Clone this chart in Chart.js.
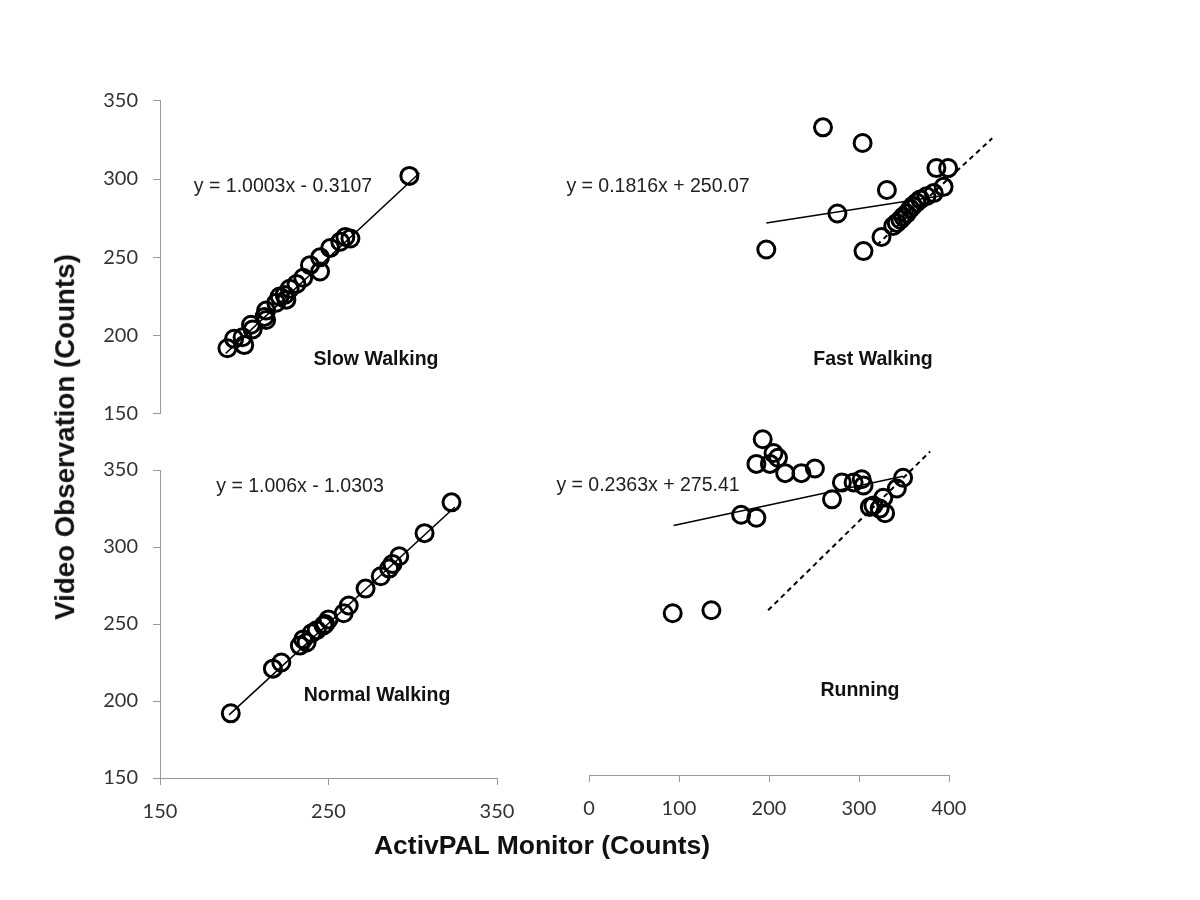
<!DOCTYPE html>
<html>
<head>
<meta charset="utf-8">
<script src="https://cdn.jsdelivr.net/npm/chart.js@4.4.1/dist/chart.umd.min.js"></script>
<style>
  html, body { margin: 0; padding: 0; background: #fff; }
  #wrap { position: relative; width: 1200px; height: 900px; overflow: hidden; }
  #wrap canvas { position: absolute; left: 0; top: 0; }
  .txt { position: absolute; white-space: nowrap; line-height: 1; transform: translate(-50%, -50%);
         font-family: "Liberation Sans", Arial, sans-serif; }
  .eq { font-size: 19.5px; color: #222; }
  .lbl { font-size: 19.5px; font-weight: bold; color: #111; }
  .title { font-size: 26.5px; font-weight: bold; color: #111; }
</style>
</head>
<body>
<div id="wrap">
  <canvas id="slow" width="1200" height="900"></canvas>
  <canvas id="fast" width="1200" height="900"></canvas>
  <canvas id="normal" width="1200" height="900"></canvas>
  <canvas id="running" width="1200" height="900"></canvas>

  <div class="txt eq" style="left:283px; top:186px;">y = 1.0003x - 0.3107</div>
  <div class="txt eq" style="left:658px; top:186px;">y = 0.1816x + 250.07</div>
  <div class="txt eq" style="left:300px; top:486px;">y = 1.006x - 1.0303</div>
  <div class="txt eq" style="left:648px; top:485px;">y = 0.2363x + 275.41</div>

  <div class="txt lbl" style="left:376px; top:359px;">Slow Walking</div>
  <div class="txt lbl" style="left:873px; top:359px;">Fast Walking</div>
  <div class="txt lbl" style="left:377px; top:695px;">Normal Walking</div>
  <div class="txt lbl" style="left:860px; top:690px;">Running</div>

  <div class="txt title" style="left:542px; top:845px;">ActivPAL Monitor (Counts)</div>
  <div class="txt title" style="left:65px; top:437px; font-size:27.7px; transform: translate(-50%, -50%) rotate(-90deg);">Video Observation (Counts)</div>
</div>

<script>
// ActivPAL (x) vs video observation (y) counts
const slowX = [298, 263, 260, 257, 251, 245, 245, 239, 235, 231, 227, 224, 221, 225, 219, 213, 212, 213, 204, 205, 199, 194, 200, 190];
const slowY = [302, 262, 263, 260, 256, 250, 241, 245, 237, 233, 230, 226, 225, 223, 221, 216, 212, 210, 207, 204, 199, 198, 194, 192];
const slowFitX = [189, 304];
const slowFitY = [188.7, 303.8];

const fastX = [260, 304, 331, 276, 197, 305, 325, 338, 342, 346, 349, 353, 357, 360, 364, 368, 375, 383, 394, 386, 399];
const fastY = [333, 323, 293, 278, 255, 254, 263, 270, 272, 274, 276, 278, 281, 283, 285, 287, 289, 291, 295, 307, 307];
const fastFitX = [197, 399];
const fastFitY = [272, 290];
const fastRefX = [320, 448];
const fastRefY = [258, 326];

const normalX = [323, 307, 292, 288, 286, 281, 272, 262, 259, 250, 247, 243, 240, 235, 233, 237, 248, 222, 217, 192];
const normalY = [329, 309, 294, 289, 286, 281, 273, 262, 257, 253, 249, 246, 244, 240, 236, 238, 250, 225, 221, 192];
const normalFitX = [191, 325];
const normalFitY = [191, 326];

const runX = [193, 186, 205, 210, 201, 218, 236, 251, 281, 294, 303, 305, 270, 349, 342, 327, 316, 323, 329, 312, 169, 186, 93, 136];
const runY = [370, 354, 361, 358, 354, 348, 348, 351, 342, 342, 344, 340, 331, 345, 338, 332, 327, 325, 322, 326, 321, 319, 257, 259];
const runFitX = [94, 349];
const runFitY = [314, 346];
const runRefX = [199, 379];
const runRefY = [259, 362];

const leftXTicks = [150, 250, 350];
const rightXTicks = [0, 100, 200, 300, 400];
const yTicks = [150, 200, 250, 300, 350];

const AXIS_GREY = '#9a9a9a';
const TICK_FONT = { family: 'Lato, "Liberation Sans", sans-serif', size: 20 };

function pts(xs, ys) {
  return xs.map((x, i) => ({ x: x, y: ys[i] }));
}

function circles(xs, ys) {
  return {
    data: pts(xs, ys),
    pointRadius: 8.5,
    pointBorderWidth: 3,
    pointBorderColor: '#000',
    pointBackgroundColor: 'rgba(0,0,0,0)',
    showLine: false,
    clip: false,
  };
}

function line(xs, ys, dashed) {
  return {
    data: pts(xs, ys),
    showLine: true,
    pointRadius: 0,
    borderColor: '#000',
    borderWidth: dashed ? 2 : 1.5,
    borderDash: dashed ? [5, 4] : [],
    clip: false,
  };
}

function fixedTicks(list) {
  return function (scale) {
    scale.ticks = list.map(v => ({ value: v }));
  };
}

function xAxis(show, min, max, list) {
  return {
    type: 'linear', display: show, min: min, max: max,
    afterBuildTicks: fixedTicks(list),
    ticks: { padding: 15, color: '#333', font: TICK_FONT, maxRotation: 0 },
    grid: { drawOnChartArea: false, tickLength: 7, color: AXIS_GREY },
    border: { color: AXIS_GREY },
    afterFit: s => { s.height = show ? 50 : 0; },
  };
}

function yAxis(show, min, max) {
  return {
    type: 'linear', display: show, min: min, max: max,
    afterBuildTicks: fixedTicks(yTicks),
    ticks: { padding: 15, color: '#333', font: TICK_FONT },
    grid: { drawOnChartArea: false, tickLength: 7, color: AXIS_GREY },
    border: { color: AXIS_GREY },
    afterFit: s => { s.width = show ? 160 : 0; },
  };
}

function panel(id, datasets, scales, padding) {
  new Chart(document.getElementById(id), {
    type: 'scatter',
    data: { datasets: datasets },
    options: {
      responsive: false,
      animation: false,
      events: [],
      layout: { padding: padding },
      plugins: { legend: { display: false }, tooltip: { enabled: false } },
      scales: scales,
    },
  });
}

// top left: slow walking
panel('slow',
  [line(slowFitX, slowFitY, false), circles(slowX, slowY)],
  { x: xAxis(false, 150, 350, leftXTicks), y: yAxis(true, 150, 350) },
  { left: 0, top: 100.7, right: 703, bottom: 486 });

// top right: fast walking
panel('fast',
  [line(fastFitX, fastFitY, false), line(fastRefX, fastRefY, true), circles(fastX, fastY)],
  { x: xAxis(false, 0, 400, rightXTicks), y: yAxis(false, 150, 350) },
  { left: 589, top: 100.7, right: 251, bottom: 486 });

// bottom left: normal walking
panel('normal',
  [line(normalFitX, normalFitY, false), circles(normalX, normalY)],
  { x: xAxis(true, 150, 350, leftXTicks), y: yAxis(true, 150, 350) },
  { left: 0, top: 470, right: 703, bottom: 72 });

// bottom right: running (taller plot area so the high points above 350 are still drawn)
panel('running',
  [line(runFitX, runFitY, false), line(runRefX, runRefY, true), circles(runX, runY)],
  { x: xAxis(true, 0, 400, rightXTicks), y: yAxis(false, 152, 382.5) },
  { left: 589, top: 420, right: 251, bottom: 75 });
</script>
</body>
</html>
